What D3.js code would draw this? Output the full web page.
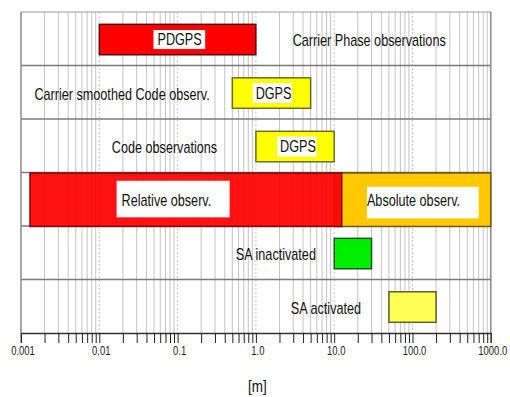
<!DOCTYPE html>
<html>
<head>
<meta charset="utf-8">
<script src="https://cdn.jsdelivr.net/npm/d3@7"></script>
<style>
  html, body { margin: 0; padding: 0; background: #fff; }
  svg { display: block; font-family: "Liberation Sans", Arial, sans-serif; }
</style>
</head>
<body>
<svg id="chart" width="510" height="397"></svg>
<script>
// Rows of the accuracy chart, top to bottom
const rowIds = [0, 1, 2, 3, 4, 5];
const rowCaptions = ["Carrier Phase observations", "Carrier smoothed Code observ.", "Code observations", "", "SA inactivated", "SA activated"];
const rowCaptionAt = [28, 0.0195, 0.068, null, 1.8, 7.85];   // caption centre, in metres

// Accuracy ranges [m]
const barRow   = [0, 1, 2, 3, 3, 4, 5];
const barStart = [0.01, 0.5, 1, 10, 0.0013, 10, 50];
const barEnd   = [1, 5, 10, 1000, 12.5, 30, 200];
const barName  = ["PDGPS", "DGPS", "DGPS", "Absolute observ.", "Relative observ.", "", ""];
const barLabelAt = [0.106, 1.68, 3.45, 103, 0.072, null, null]; // label centre, in metres

// Axis
const tickValues = [0.001, 0.01, 0.1, 1, 10, 100, 1000];
const tickLabels = ["0.001", "0.01", "0.1", "1.0", "10.0", "100.0", "1000.0"];
const axisTitle = "[m]";

// Styles
const barFill   = ["#ff0000", "#ffff00", "#ffff00", "#ffc800", "#ff0000", "#00ee00", "#ffff55"];
const barStroke = ["#3a0000", "#55551a", "#55551a", "#5a4a10", "#6a0000", "#1a3a1a", "#44441a"];
const barOpacity = [1, 1, 1, 1, 0.93, 1, 1];
const barFull   = [false, false, false, true, true, false, false];
// white box padding around label text: left, right, above centre, below centre
const labelPad  = [[4, 3.5, 9.5, 9.5], [3, 0.5, 10, 10], [3, 0.5, 10, 10], [0, 18.6, 14, 17.6], [5, 18.4, 20, 16.6]];
const SX = 0.79; // horizontal squeeze of the narrow text face
const FS = 16;

const svg = d3.select("#chart");
const plotL = 21, plotR = 490.8, plotT = 12, plotB = 333;

const x = d3.scaleLog().domain([0.001, 1000]).range([plotL, plotR]);
const y = d3.scaleBand().domain(rowIds).range([plotT, plotB]).padding(0);

// all log ticks 1..9 x 10^k
const minor = [];
for (let k = -3; k <= 2; k++) for (let m = 2; m <= 9; m++) minor.push(m * Math.pow(10, k));

// grid
const grid = svg.append("g");
grid.selectAll("line.minor").data(minor).join("line")
  .attr("x1", d => x(d)).attr("x2", d => x(d))
  .attr("y1", plotT).attr("y2", plotB)
  .attr("stroke", "#c4c4c4").attr("stroke-width", 1);
grid.selectAll("line.major").data(tickValues.slice(1, -1)).join("line")
  .attr("x1", d => x(d)).attr("x2", d => x(d))
  .attr("y1", plotT).attr("y2", plotB)
  .attr("stroke", "#c8c8c8").attr("stroke-width", 1).attr("stroke-dasharray", "2,2");

// row separators and frame
grid.selectAll("line.row").data(rowIds.slice(1)).join("line")
  .attr("x1", plotL).attr("x2", plotR)
  .attr("y1", d => y(d)).attr("y2", d => y(d))
  .attr("stroke", "#7a7a7a").attr("stroke-width", 1.5);
grid.append("line").attr("x1", plotL).attr("x2", plotR).attr("y1", plotT).attr("y2", plotT)
  .attr("stroke", "#9a9a9a").attr("stroke-width", 1.2);
grid.append("line").attr("x1", plotL).attr("x2", plotL).attr("y1", plotT).attr("y2", plotB + 10)
  .attr("stroke", "#8a8a8a").attr("stroke-width", 1.5);
grid.append("line").attr("x1", plotR).attr("x2", plotR).attr("y1", plotT).attr("y2", plotB + 10)
  .attr("stroke", "#8a8a8a").attr("stroke-width", 1.5);

// bars
const bars = barRow.map((r, i) => ({ r, i, s: barStart[i], e: barEnd[i] }));
const bh = 30.5, boff = 12.3;
svg.append("g").selectAll("rect").data(bars).join("rect")
  .attr("x", d => x(d.s))
  .attr("width", d => x(d.e) - x(d.s))
  .attr("y", d => barFull[d.i] ? y(d.r) + 0.5 : y(d.r) + boff)
  .attr("height", d => barFull[d.i] ? y.bandwidth() : bh)
  .attr("fill", d => barFill[d.i])
  .attr("fill-opacity", d => barOpacity[d.i])
  .attr("stroke", d => barStroke[d.i])
  .attr("stroke-opacity", 0.85)
  .attr("stroke-width", 1.5);

// helper for squeezed text
function squeezed(g, tx, ty, str, size, anchor) {
  return g.append("text")
    .attr("transform", `translate(${tx},${ty}) scale(${SX},1)`)
    .attr("text-anchor", anchor || "middle")
    .attr("dominant-baseline", "central")
    .attr("font-size", size)
    .attr("fill", "#111")
    .text(str);
}

// in-bar labels with white boxes
const lab = svg.append("g");
bars.forEach(d => {
  if (!barName[d.i]) return;
  const cx = x(barLabelAt[d.i]);
  const cy = barFull[d.i] ? y(d.r) + y.bandwidth() / 2 + 1.5 : y(d.r) + boff + bh / 2;
  const bg = lab.append("rect").attr("fill", "#fff");
  const t = squeezed(lab, cx, cy, barName[d.i], FS);
  const w = t.node().getComputedTextLength() * SX;
  const p = labelPad[d.i];
  bg.attr("x", cx - w / 2 - p[0]).attr("width", w + p[0] + p[1])
    .attr("y", cy - p[2]).attr("height", p[2] + p[3]);
});

// row captions
rowIds.forEach(r => {
  if (!rowCaptions[r]) return;
  squeezed(lab, x(rowCaptionAt[r]), y(r) + y.bandwidth() / 2 + 2, rowCaptions[r], FS);
});

// bottom axis
const allTicks = tickValues.concat(minor).sort((a, b) => a - b);
const axis = d3.axisBottom(x).tickValues(allTicks).tickSize(10).tickSizeOuter(0)
  .tickFormat(d => { const k = tickValues.indexOf(d); return k >= 0 ? tickLabels[k] : ""; });
const ax = svg.append("g").attr("transform", `translate(0,${plotB})`).call(axis);
ax.select(".domain").attr("stroke", "#333").attr("stroke-width", 1.5);
ax.selectAll(".tick line").attr("stroke", "#222");
ax.selectAll(".tick text").remove();
tickValues.forEach((v, k) => {
  squeezed(ax, x(v) + 2, 18, tickLabels[k], 12).attr("fill", "#222");
});

// axis title
squeezed(svg, (plotL + plotR) / 2 + 1.5, 386, axisTitle, 17);
</script>
</body>
</html>
